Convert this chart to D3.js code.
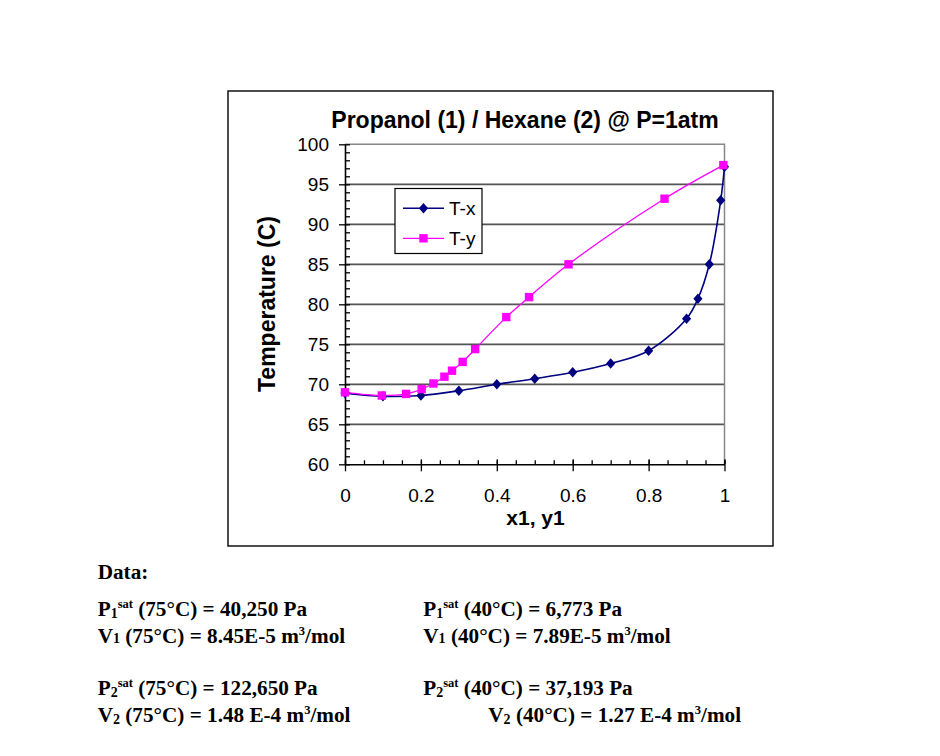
<!DOCTYPE html>
<html><head><meta charset="utf-8">
<script src="https://cdn.jsdelivr.net/npm/d3@7/dist/d3.min.js"></script>
<style>body{margin:0;background:#fff}</style>
</head><body>
<svg id="c" width="940" height="756"></svg>
<script>
// ---- data ----
const txX = [0, 0.1, 0.2, 0.3, 0.4, 0.5, 0.6, 0.7, 0.8, 0.9, 0.93, 0.96, 0.99, 1.0];
const txT = [68.9, 68.5, 68.6, 69.2, 70.0, 70.7, 71.5, 72.6, 74.2, 78.2, 80.7, 85.0, 93.0, 97.2];
const tyY = [0, 0.097, 0.161, 0.202, 0.233, 0.262, 0.282, 0.31, 0.343, 0.425, 0.485, 0.589, 0.842, 0.997];
const tyT = [69.0, 68.6, 68.8, 69.4, 70.1, 70.95, 71.7, 72.8, 74.4, 78.4, 80.9, 85.0, 93.2, 97.4];
const seriesNames = ["T-x", "T-y"];
const yTicks = [60, 65, 70, 75, 80, 85, 90, 95, 100];
const xTicks = [0, 0.2, 0.4, 0.6, 0.8, 1];
const xTickLabels = ["0", "0.2", "0.4", "0.6", "0.8", "1"];
const titleText = "Propanol (1) / Hexane (2) @ P=1atm";
const xTitle = "x1, y1";
const yTitle = "Temperature (C)";
const noteHeader = "Data:";
const notesLeft = [
  [["P",""],["1","sub"],["sat","sup"],[" (75°C) = 40,250 Pa",""]],
  [["V",""],["1","sub0"],[" (75°C) = 8.45E-5 m",""],["3","sup"],["/mol",""]],
  [["P",""],["2","sub"],["sat","sup"],[" (75°C) = 122,650 Pa",""]],
  [["V",""],["2","sub"],[" (75°C) = 1.48 E-4 m",""],["3","sup"],["/mol",""]]
];
const notesRight = [
  [["P",""],["1","sub"],["sat","sup"],[" (40°C) = 6,773 Pa",""]],
  [["V",""],["1","sub0"],[" (40°C) = 7.89E-5 m",""],["3","sup"],["/mol",""]],
  [["P",""],["2","sub"],["sat","sup"],[" (40°C) = 37,193 Pa",""]],
  [["V",""],["2","sub"],[" (40°C) = 1.27 E-4 m",""],["3","sup"],["/mol",""]]
];

// ---- layout ----
const svg = d3.select("#c");
const SANS = "'Liberation Sans', Arial, sans-serif";
const SERIF = "'Liberation Serif', 'Times New Roman', serif";
const NAVY = "#000080", MAG = "#FF00FF";
const px0 = 345, px1 = 724.5, pyTop = 144.3, pyBot = 464.3;

const x = d3.scaleLinear().domain([0, 1]).range([px0, px1]);
const y = d3.scaleLinear().domain([60, 100]).range([pyBot, pyTop]);

// chart area border
svg.append("rect").attr("x", 228).attr("y", 91).attr("width", 545).attr("height", 455)
  .attr("fill", "#fff").attr("stroke", "#000").attr("stroke-width", 1.4);

// gridlines
svg.append("g").selectAll("line").data(yTicks.filter(v => v > 60 && v < 100)).join("line")
  .attr("x1", px0).attr("x2", px1).attr("y1", d => y(d)).attr("y2", d => y(d))
  .attr("stroke", "#555").attr("stroke-width", 1.8);
// plot border top/right (gray)
svg.append("path").attr("d", `M${px0},${y(100)}H${px1}V${pyBot}`)
  .attr("fill", "none").attr("stroke", "#888").attr("stroke-width", 1.5);

// axes
const yMinor = svg.append("g").attr("transform", `translate(${px0},0)`)
  .call(d3.axisRight(y).tickValues(d3.range(60, 101, 1)).tickSize(5).tickFormat(""));
yMinor.select(".domain").remove();
const xMinor = svg.append("g").attr("transform", `translate(0,${pyBot})`)
  .call(d3.axisTop(x).tickValues(d3.range(0, 1.0001, 0.05)).tickSize(4).tickFormat(""));
xMinor.select(".domain").remove();
const xMajUp = svg.append("g").attr("transform", `translate(0,${pyBot})`)
  .call(d3.axisTop(x).tickValues(xTicks).tickSize(5).tickFormat(""));
xMajUp.select(".domain").remove();

const yAx = svg.append("g").attr("transform", `translate(${px0},0)`)
  .call(d3.axisLeft(y).tickValues(yTicks).tickSizeInner(6).tickSizeOuter(0).tickPadding(10).tickFormat(d3.format("d")));
const xAx = svg.append("g").attr("transform", `translate(0,${pyBot})`)
  .call(d3.axisBottom(x).tickValues(xTicks).tickSizeInner(7).tickSizeOuter(0).tickPadding(17)
    .tickFormat((d, i) => xTickLabels[i]));
[yAx, xAx, yMinor, xMinor, xMajUp].forEach(g => {
  g.selectAll("line").attr("stroke", "#000").attr("stroke-width", 1.3);
  g.select(".domain").attr("stroke", "#000").attr("stroke-width", 1.6);
  g.selectAll("text").attr("font-family", SANS).attr("font-size", 19).attr("fill", "#000");
});

// lines
const lineGen = d3.line().x(d => x(d[0])).y(d => y(d[1])).curve(d3.curveCatmullRom.alpha(0.5));
const txData = txX.map((v, i) => [v, txT[i]]);
const tyData = tyY.map((v, i) => [v, tyT[i]]);

const diamond = (cx, cy, w, h) => `M${cx},${cy - h}L${cx + w},${cy}L${cx},${cy + h}L${cx - w},${cy}Z`;

svg.append("path").datum(txData).attr("d", lineGen).attr("fill", "none").attr("stroke", NAVY).attr("stroke-width", 1.6);
svg.append("g").selectAll("path").data(txData).join("path")
  .attr("d", d => diamond(x(d[0]), y(d[1]), 4.6, 5.2)).attr("fill", NAVY);

svg.append("path").datum(tyData).attr("d", lineGen).attr("fill", "none").attr("stroke", MAG).attr("stroke-width", 1.3);
svg.append("g").selectAll("rect").data(tyData).join("rect")
  .attr("x", d => x(d[0]) - 4.2).attr("y", d => y(d[1]) - 4.2).attr("width", 8.4).attr("height", 8.4)
  .attr("fill", MAG);

// legend
const lg = svg.append("g");
lg.append("rect").attr("x", 395).attr("y", 188.5).attr("width", 87).attr("height", 65)
  .attr("fill", "#fff").attr("stroke", "#000").attr("stroke-width", 1.2);
const legendItems = [
  {name: seriesNames[0], color: NAVY, ly: 208.3, mark: "d"},
  {name: seriesNames[1], color: MAG, ly: 238.3, mark: "s"}
];
legendItems.forEach(it => {
  lg.append("line").attr("x1", 403).attr("x2", 444).attr("y1", it.ly).attr("y2", it.ly)
    .attr("stroke", it.color).attr("stroke-width", it.mark === "d" ? 1.6 : 1.3);
  if (it.mark === "d") lg.append("path").attr("d", diamond(423.5, it.ly, 4.6, 5.2)).attr("fill", it.color);
  else lg.append("rect").attr("x", 423.5 - 4.2).attr("y", it.ly - 4.2).attr("width", 8.4).attr("height", 8.4).attr("fill", it.color);
  lg.append("text").attr("x", 449).attr("y", it.ly + 6.8).text(it.name)
    .attr("font-family", SANS).attr("font-size", 19).attr("fill", "#000");
});

// titles
svg.append("text").attr("x", 525).attr("y", 127.5).attr("text-anchor", "middle")
  .attr("font-family", SANS).attr("font-weight", "bold").attr("font-size", 23).text(titleText);
svg.append("text").attr("x", 535.5).attr("y", 525).attr("text-anchor", "middle")
  .attr("font-family", SANS).attr("font-weight", "bold").attr("font-size", 21).text(xTitle);
svg.append("text").attr("transform", "translate(275,304) rotate(-90)").attr("text-anchor", "middle")
  .attr("font-family", SANS).attr("font-weight", "bold").attr("font-size", 23).text(yTitle);

// notes
const FS = 21.2;
function note(xp, yp, segs) {
  const t = svg.append("text").attr("x", xp).attr("y", yp)
    .attr("font-family", SERIF).attr("font-weight", "bold").attr("font-size", FS).attr("fill", "#000");
  let shift = 0;
  segs.forEach(([s, kind]) => {
    let target = 0, fs = FS;
    if (kind === "sub") { target = 2; fs = 14; }
    else if (kind === "sub0") { target = 0; fs = 14; }
    else if (kind === "sup") { target = -8; fs = 12.5; }
    const ts = t.append("tspan").attr("font-size", fs).text(s);
    if (target !== shift) { ts.attr("dy", target - shift); shift = target; }
  });
}
svg.append("text").attr("x", 97.7).attr("y", 579.3).attr("font-family", SERIF)
  .attr("font-weight", "bold").attr("font-size", FS).text(noteHeader);
const rowY = [616, 642.7, 695, 721.7];
notesLeft.forEach((segs, i) => note(97.7, rowY[i], segs));
notesRight.forEach((segs, i) => note(i === 3 ? 488.3 : 423.3, rowY[i], segs));
</script>
</body></html>
